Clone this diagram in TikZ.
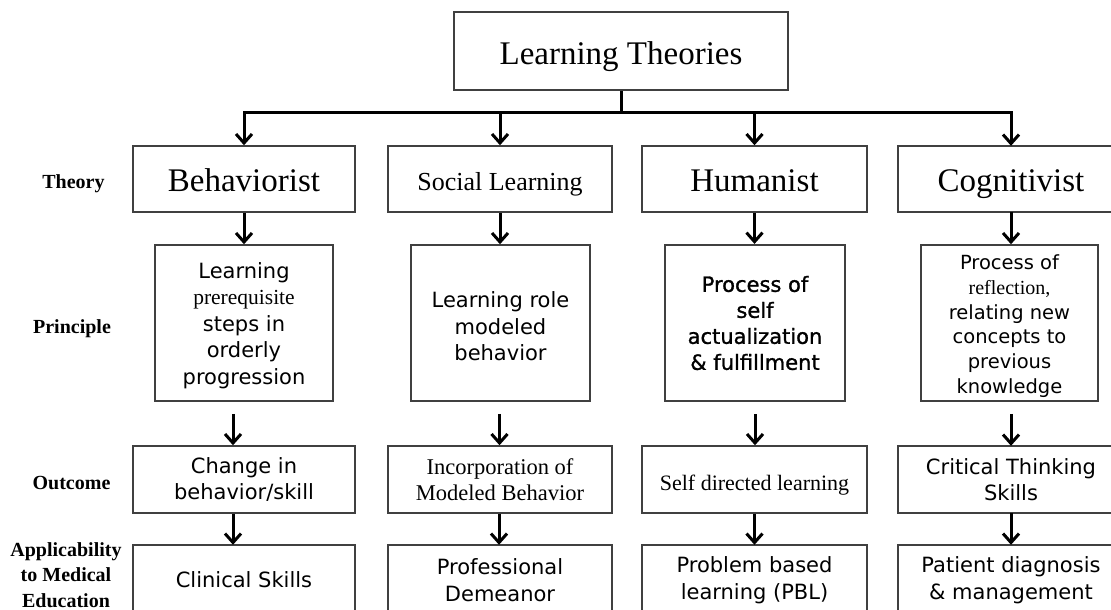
\documentclass[tikz,border=0pt]{standalone}
\usepackage{fontspec}
\setmainfont{Liberation Serif}
\newfontfamily\dvs{DejaVu Sans}
\newfontfamily\dvsb[FakeBold=1.2]{DejaVu Sans}
\usetikzlibrary{arrows.meta}
\newcommand\Sans{\dvs\fontsize{21}{26.5}\selectfont}
\newcommand\Ser[2]{{\rmfamily\fontsize{#1}{26.5}\selectfont #2}}
\newcommand\shim[1]{\rule{0pt}{#1}}
\tikzset{
  boxline/.style={draw=black!75, line width=1.5pt},
  bx/.style={boxline, inner sep=0pt, align=center},
  nb/.style={inner sep=0pt, align=center},
  arr/.style={line width=3pt, -{Straight Barb[length=9pt,width=16pt]}},
  lbl/.style={inner sep=0pt, align=center, font=\bfseries\fontsize{20}{25.5}\selectfont},
  thr/.style={minimum height=66pt, text height=24pt, text depth=0pt},
  pr/.style={minimum height=156pt},
  oc/.style={minimum height=67pt},
  ap/.style={minimum height=65pt},
}
\begin{document}
\begin{tikzpicture}[x=1pt,y=-1pt]
\useasboundingbox (0,0) rectangle (1111,610);
\coordinate (E) at (1111,0);
% top
\node[bx, minimum width=334pt, minimum height=78pt, text height=28pt, text depth=0pt, font=\fontsize{33}{38}\selectfont] (top) at (621,51) {Learning Theories};
\coordinate (J) at (621,112);
% theory row
\node[bx, thr, minimum width=222pt, font=\fontsize{33}{38}\selectfont] (b1) at (244,179) {Behaviorist};
\node[bx, thr, minimum width=224pt, text height=23pt, font=\fontsize{26}{30}\selectfont] (s1) at (500,179) {Social Learning};
\node[bx, thr, minimum width=225pt, font=\fontsize{33}{38}\selectfont] (h1) at (754.5,179) {Humanist};
\node[nb, thr, minimum width=226pt, font=\fontsize{33}{38}\selectfont] (c1) at (1011,179) {Cognitivist};
\draw[boxline] (c1.north -| E) -- (c1.north west) -- (c1.south west) -- (c1.south -| E);
% principle row
\node[bx, pr, minimum width=178pt, font=\Sans] (b2) at (244,323) {\shim{21pt}Learning\\\Ser{21.5}{prerequisite}\\steps in\\orderly\\progression};
\node[bx, pr, minimum width=179pt, font=\Sans] (s2) at (500.5,323) {\shim{23pt}Learning role\\modeled\\behavior};
\node[bx, pr, minimum width=180pt, line width=2.2pt, font=\dvsb\fontsize{21}{26}\selectfont] (h2) at (755,323) {Process of\\self\\actualization\\\& fulfillment};
\node[bx, pr, minimum width=177pt, font=\dvs\fontsize{19.5}{24.8}\selectfont] (c2) at (1009.5,323) {\shim{21pt}Process of\\{\rmfamily\fontsize{20}{24.8}\selectfont reflection,}\\relating new\\concepts to\\previous\\knowledge};
% outcome row
\node[bx, oc, minimum width=222pt, font=\Sans] (b3) at (244,479.5) {Change in\\behavior/skill};
\node[bx, oc, minimum width=224pt, font=\fontsize{22.5}{26.5}\selectfont] (s3) at (500,479.5) {Incorporation of\\Modeled Behavior};
\node[bx, oc, minimum width=225pt, text height=21pt, text depth=0pt, font=\fontsize{22}{26}\selectfont] (h3) at (754.5,479.5) {Self directed learning};
\node[nb, oc, minimum width=226pt, font=\Sans] (c3) at (1011,479.5) {Critical Thinking\\Skills};
\draw[boxline] (c3.north -| E) -- (c3.north west) -- (c3.south west) -- (c3.south -| E);
% applicability row
\node[nb, ap, minimum width=222pt, font=\Sans] (b4) at (244,577.5) {\shim{21pt}Clinical Skills};
\node[nb, ap, minimum width=224pt, font=\Sans] (s4) at (500,577.5) {\shim{21pt}Professional\\Demeanor};
\node[nb, ap, minimum width=225pt, font=\Sans] (h4) at (754.5,577.5) {\shim{21pt}Problem based\\learning (PBL)};
\node[nb, ap, minimum width=226pt, font=\Sans] (c4) at (1011,577.5) {\shim{21pt}Patient diagnosis\\\& management};
\draw[boxline] (b4.south west) -- (b4.north west) -- (b4.north east) -- (b4.south east);
\draw[boxline] (s4.south west) -- (s4.north west) -- (s4.north east) -- (s4.south east);
\draw[boxline] (h4.south west) -- (h4.north west) -- (h4.north east) -- (h4.south east);
\draw[boxline] (c4.south west) -- (c4.north west) -- (c4.north -| E);
% row labels
\node[lbl, anchor=base] (lt) at (73.5,188) {Theory};
\node[lbl, anchor=base] (lp) at (72,333) {Principle};
\node[lbl, anchor=base] (lo) at (71.5,489) {Outcome};
\node[lbl] (la) at (66,575) {Applicability\\to Medical\\Education};
% connectors
\draw[line width=3pt] (top.south) -- (J);
\draw[arr] (J) -| (b1.north);
\draw[arr] (J) -| (s1.north);
\draw[arr] (J) -| (h1.north);
\draw[arr] (J) -| (c1.north);
\draw[arr] (b1.south) -- (b1.south |- b2.north);
\draw[arr] (s1.south) -- (s1.south |- s2.north);
\draw[arr] (h1.south) -- (h1.south |- h2.north);
\draw[arr] (c1.south) -- (c1.south |- c2.north);
\draw[arr] ([xshift=-11pt,yshift=-12pt]b2.south) -- ([xshift=-11pt]b2.south |- b3.north);
\draw[arr] ([xshift=-1pt,yshift=-12pt]s2.south) -- ([xshift=-1pt]s2.south |- s3.north);
\draw[arr] ([yshift=-12pt]h2.south) -- (h2.south |- h3.north);
\draw[arr] ([xshift=1.5pt,yshift=-12pt]c2.south) -- ([xshift=1.5pt]c2.south |- c3.north);
\draw[arr] ([xshift=-11pt]b3.south) -- ([xshift=-11pt]b3.south |- b4.north);
\draw[arr] ([xshift=-1pt]s3.south) -- ([xshift=-1pt]s3.south |- s4.north);
\draw[arr] (h3.south) -- (h3.south |- h4.north);
\draw[arr] (c3.south) -- (c3.south |- c4.north);
\end{tikzpicture}
\end{document}
